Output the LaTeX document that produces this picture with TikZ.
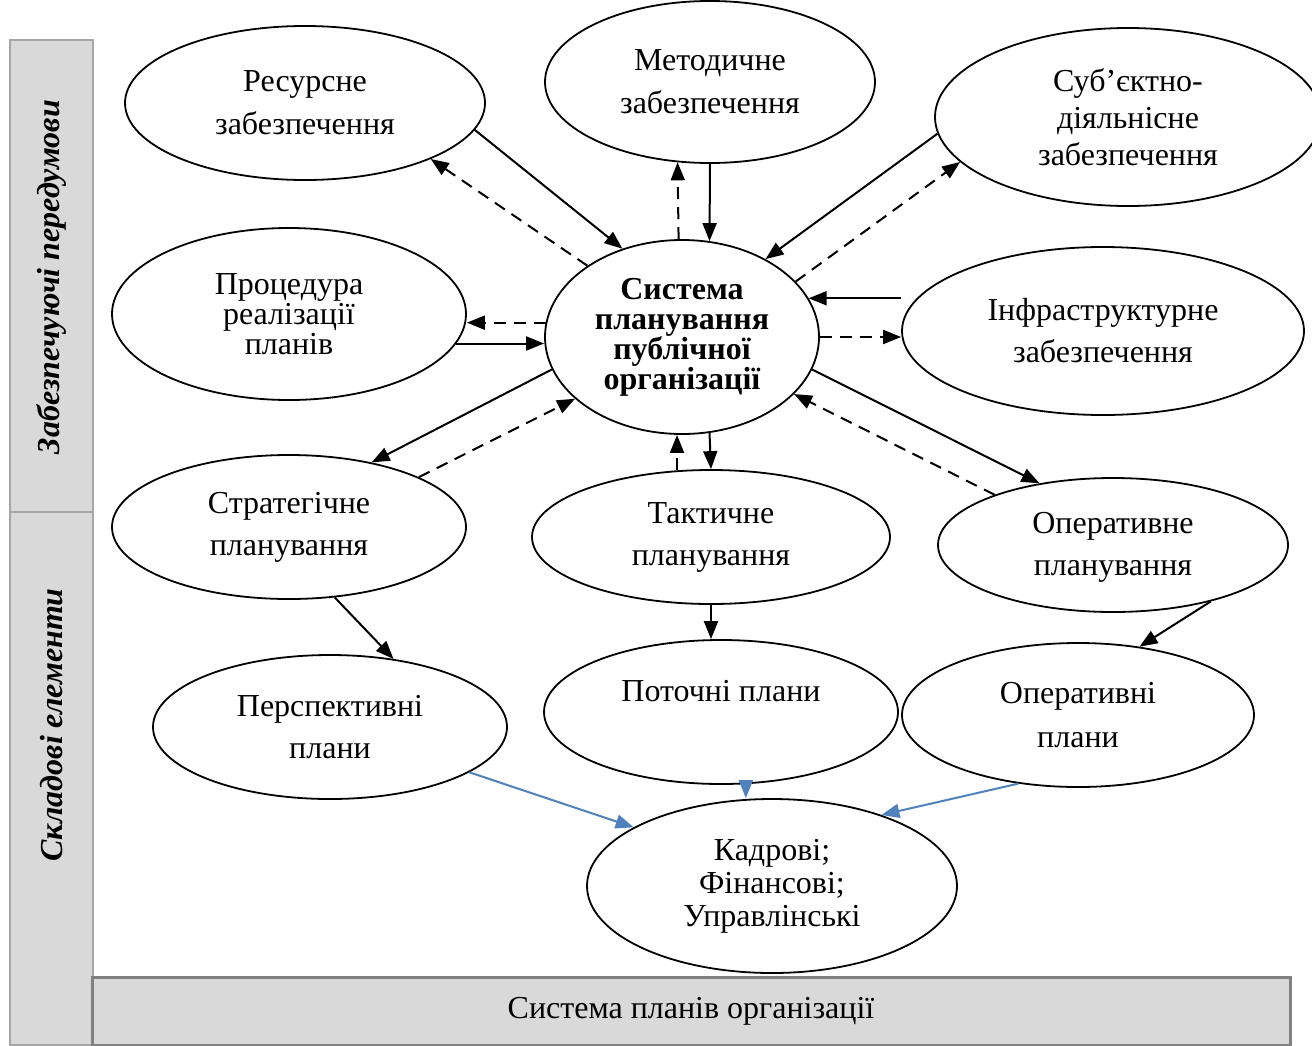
\documentclass[tikz,border=0pt]{standalone}
\usepackage{fontspec}
\setmainfont{Liberation Serif}
\usetikzlibrary{arrows.meta,shapes.geometric}
\definecolor{pblue}{HTML}{4F81BD}
\definecolor{barfill}{HTML}{D9D9D9}

\begin{document}
\begin{tikzpicture}[x=0.5pt, y=-0.5pt,
			ell/.style = {draw, ellipse, line width=0.9pt, inner sep=0pt, align=center},
			fs/.style = {font=\fontsize{16}{#1}\selectfont},
			bfs/.style = {font=\bfseries\fontsize{16}{#1}\selectfont},
			vlab/.style = {rotate=90, font=\bfseries\itshape\fontsize{16}{20}\selectfont},
			sol/.style = {draw, line width=1pt, -{Triangle[length=9pt, width=7pt]}},
			das/.style = {sol, dash pattern=on 6pt off 4pt},
			blu/.style = {sol, draw=pblue},
			bar/.style = {draw=black!35, fill=barfill, line width=0.8pt},
			]
			\useasboundingbox (0,0) rectangle (1312,1045);
			
			% side bars and bottom bar
			\node[bar, minimum width=41.5pt, minimum height=236pt] (pre) at (51.5,276) {};
			\node[bar, minimum width=41.5pt, minimum height=266.5pt] (els) at (51.5,778.5) {};
			\node[vlab] (pretxt) at (51.5,277) {Забезпечуючі передумови};
			\node[vlab] (elstxt) at (51.5,725) {Складові елементи};
			\node[draw=black!50, fill=barfill, line width=1.5pt, minimum width=599pt, minimum height=34pt, fs=20] (sp) at (691,1011) {Система планів організації};
			
			% ellipses
			\node[ell, fs=21.5, minimum width=180pt, minimum height=77pt] (res) at (305,103) {Ресурсне\\забезпечення};
			\node[ell, fs=21.5, minimum width=165pt, minimum height=81pt] (met) at (710,82) {Методичне\\забезпечення};
			\node[ell, fs=18.5, minimum width=193pt, minimum height=89pt] (sub) at (1128,117) {Суб’єктно-\\діяльнісне\\забезпечення};
			\node[ell, fs=15, minimum width=177pt, minimum height=86pt] (proc) at (289,314) {Процедура\\реалізації\\планів};
			\node[ell, bfs=15, minimum width=137pt, minimum height=97pt] (sys) at (682,337) {Система\\планування\\публічної\\організації};
			\node[ell, fs=21, minimum width=201pt, minimum height=84pt] (inf) at (1103,331) {Інфраструктурне\\забезпечення};
			\node[ell, fs=21, minimum width=177pt, minimum height=72pt] (str) at (289,527) {Стратегічне\\планування};
			\node[ell, fs=21, minimum width=179pt, minimum height=67pt] (tac) at (711,537) {Тактичне\\планування};
			\node[ell, fs=21, minimum width=175pt, minimum height=67pt] (ope) at (1113,545) {\mbox{}\\[-8pt]Оперативне\\планування};
			\node[ell, fs=21, minimum width=177pt, minimum height=72pt] (per) at (330,727) {Перспективні\\плани};
			\node[ell, fs=21.5, minimum width=177pt, minimum height=72pt] (cur) at (721,712) {Поточні плани\\\mbox{}};
			\node[ell, fs=22, minimum width=176pt, minimum height=72pt] (opp) at (1078,715) {Оперативні\\плани};
			\node[ell, fs=16.5, minimum width=185pt, minimum height=87pt] (kad) at (772,886) {Кадрові;\\Фінансові;\\Управлінські};
			
			% links to the centre
			\draw[sol] (res.-9) -- (sys.124);
			\draw[das] (sys.143) -- (res.-24);
			\draw[sol] (met.south) -- (sys.74);
			\draw[das] (sys.92) -- (met.-112);
			\draw[sol] (sub.185) -- (sys.43);
			\draw[das] (sys.26) -- (sub.195);
			\draw[sol] (inf.west |- sys.17) -- (sys.17);
			\draw[das] (sys.east) -- (sys.east -| inf.west);
			\draw[das] (sys.174) -- (sys.174 -| proc.east);
			\draw[sol] (proc.-10) -- (proc.-10 -| sys.west);
			\draw[sol] (sys.194) -- (str.38);
			\draw[das] (str.21) -- (sys.210);
			\draw[sol] (sys.-74) -- (tac.north);
			\draw[das] (tac.117) -- (tac.117 |- sys.south);
			\draw[sol] (sys.-14) -- (ope.140);
			\draw[das] (ope.157) -- (sys.-27);
			
			% plans
			\draw[sol] (str.-57) -- (per.47);
			\draw[sol] (tac.south) -- (tac.south |- cur.north);
			\draw[sol] (ope.-30) -- (opp.48);
			\draw[blu] (per.-18) -- (kad.157);
			\draw[blu] (cur.-71) -- (cur.-71 |- kad.north);
			\draw[blu] (opp.-131) -- (kad.33);
			
		\end{tikzpicture}
\end{document}
